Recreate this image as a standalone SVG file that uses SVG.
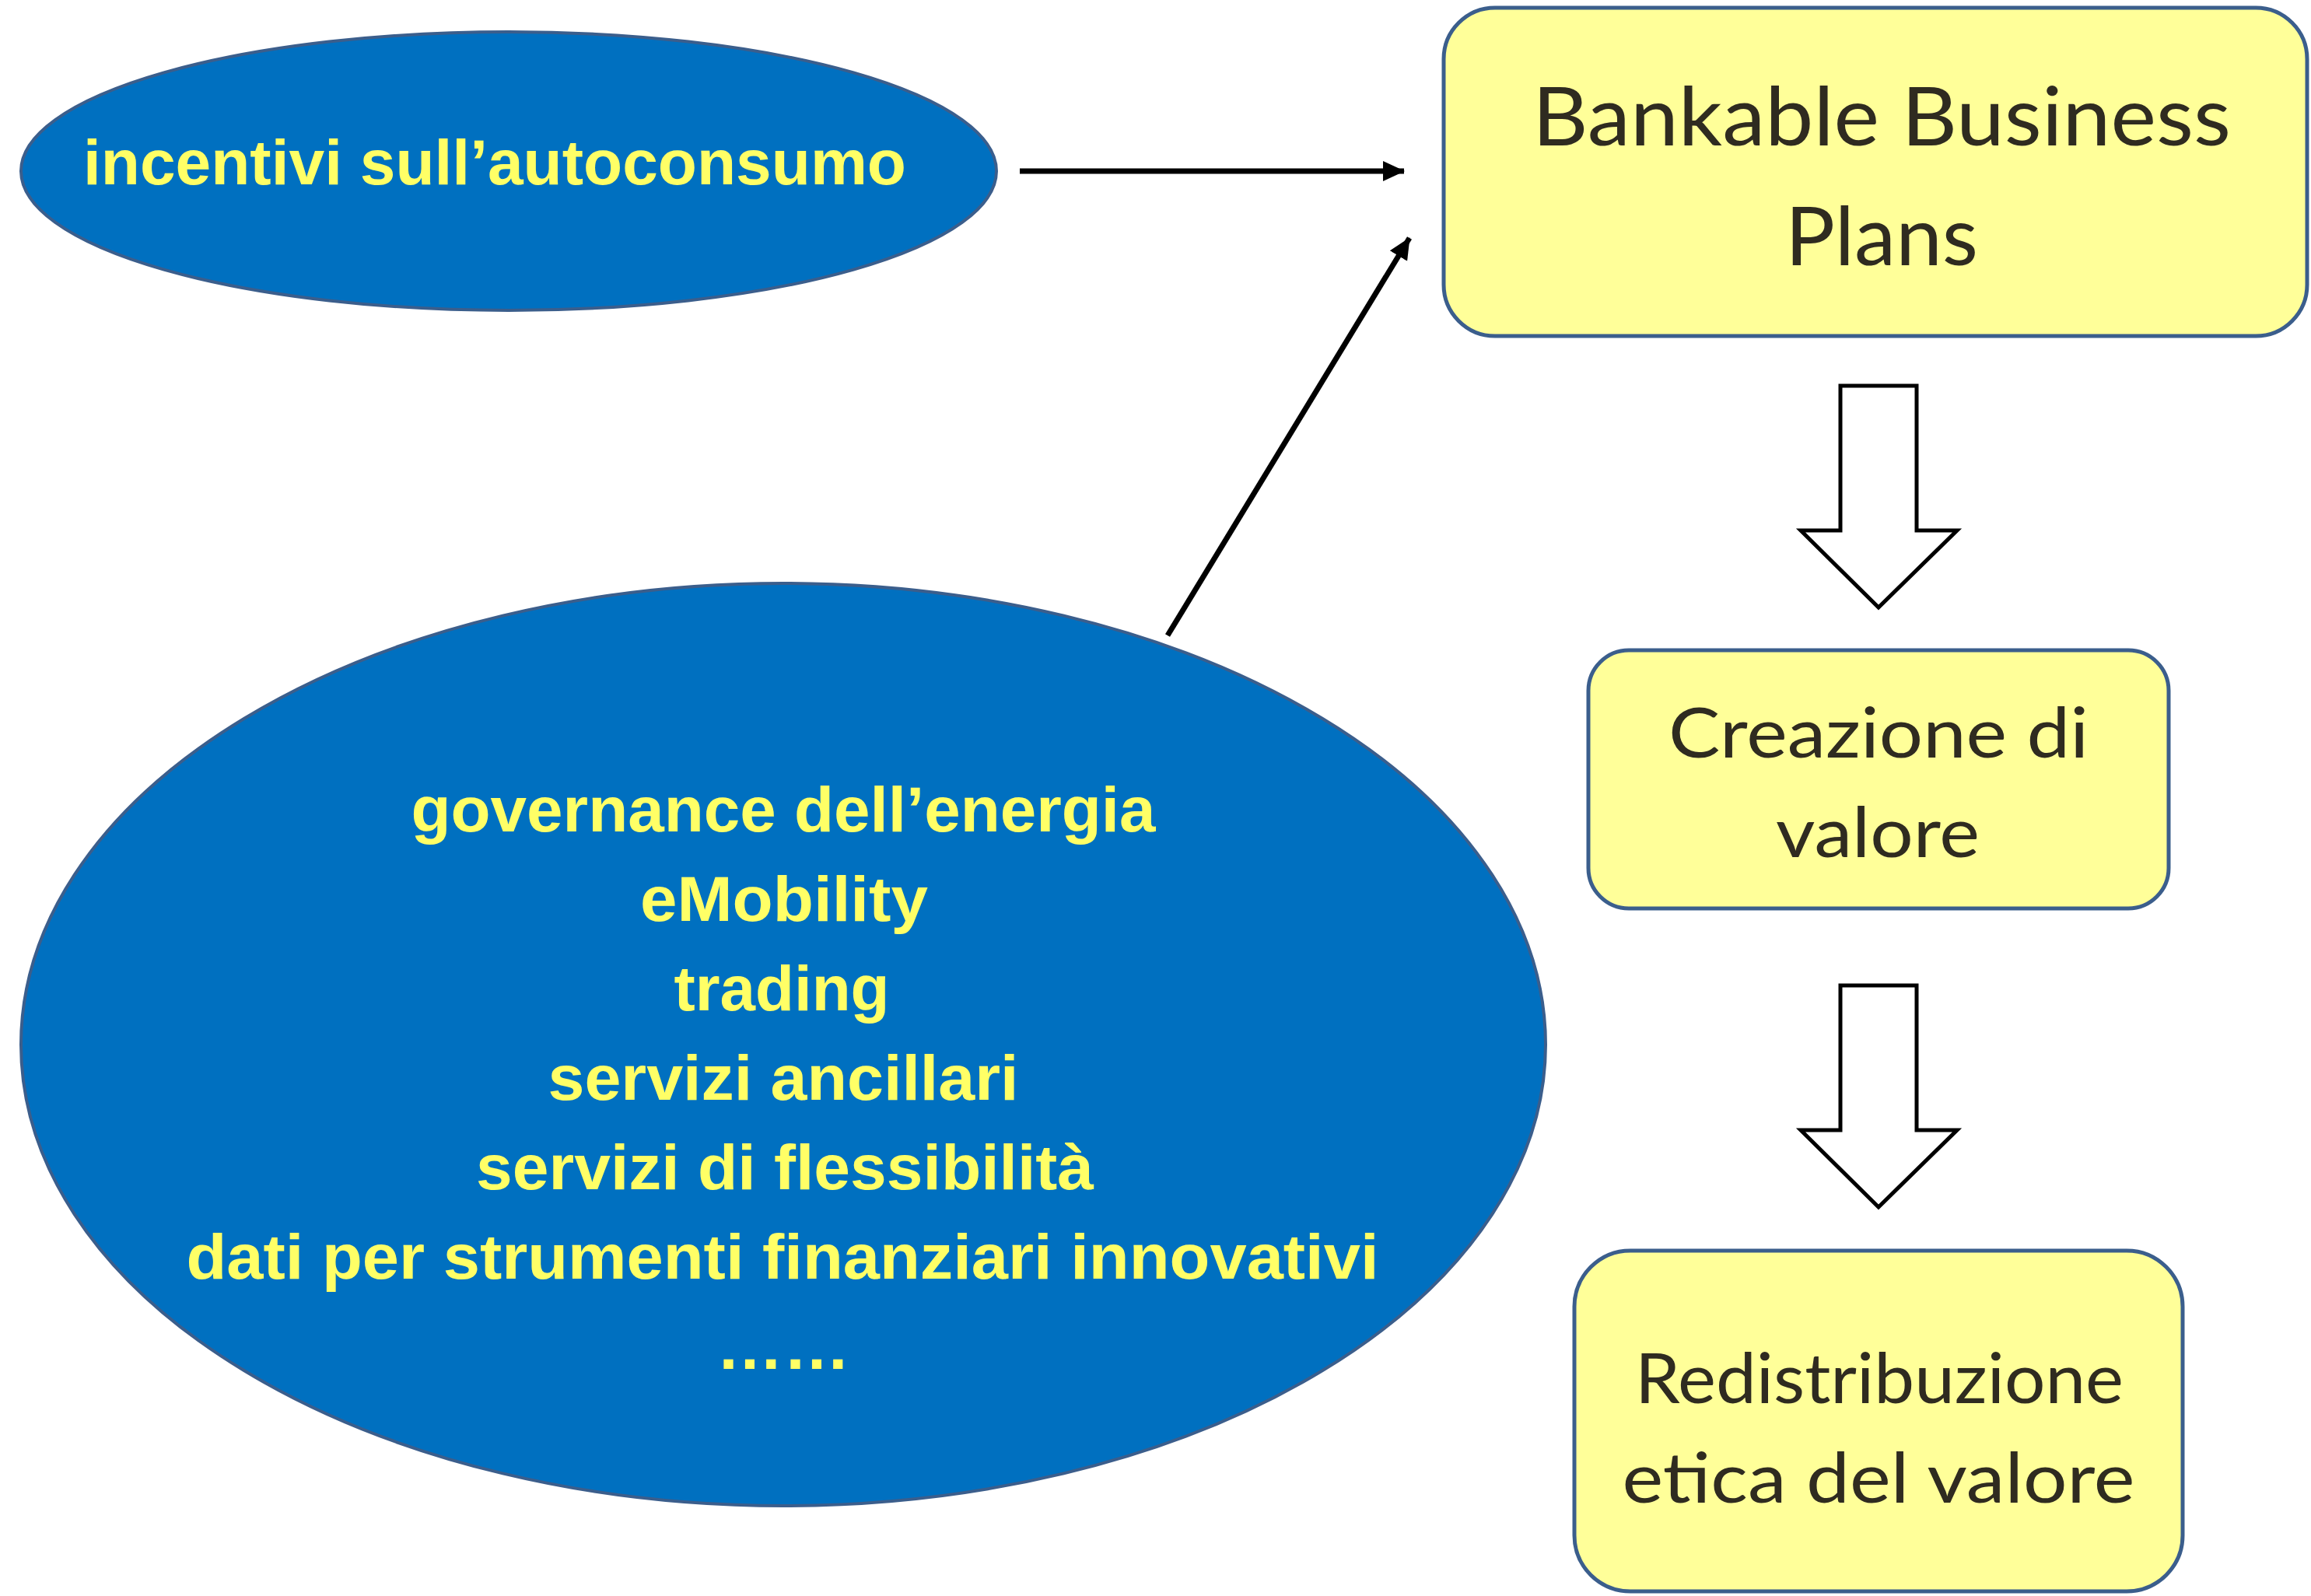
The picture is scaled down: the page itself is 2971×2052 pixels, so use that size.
<svg xmlns="http://www.w3.org/2000/svg" width="2971" height="2052" viewBox="0 0 2971 2052">
<style>
.blue{fill:#0070C0;stroke:#3B5E8C;stroke-width:4}
.yel{fill:#FFFF99;stroke:#3B5E8C;stroke-width:5}
.bt{font-family:"Liberation Sans","DejaVu Sans",sans-serif;font-weight:bold;font-size:82px;fill:#FFFF66;text-anchor:middle}
.yt{font-family:"Lato","Liberation Sans",sans-serif;font-size:104px;fill:#2F2B20;text-anchor:middle}
.yt2{font-family:"Lato","Liberation Sans",sans-serif;font-size:90px;fill:#2F2B20;text-anchor:middle}
.conn{stroke:#000;stroke-width:7;fill:none}
.block{fill:#fff;stroke:#000;stroke-width:5}
</style>
<defs>
<marker id="ah" markerUnits="userSpaceOnUse" markerWidth="28" markerHeight="28" viewBox="0 0 28 28" refX="27" refY="14" orient="auto">
<path d="M0,1 L28,14 L0,27 z" fill="#000"/>
</marker>
</defs>
<rect width="2971" height="2052" fill="#fff"/>
<g id="node-incentivi">
<ellipse class="blue" cx="654" cy="220" rx="627" ry="179"/>
<text class="bt" x="636" y="237" textLength="1058" lengthAdjust="spacingAndGlyphs">incentivi sull’autoconsumo</text>
</g>
<g id="node-servizi">
<ellipse class="blue" cx="1007" cy="1343" rx="980" ry="593"/>
<text class="bt" x="1007" y="1069" textLength="957" lengthAdjust="spacingAndGlyphs">governance dell’energia</text>
<text class="bt" x="1008" y="1184" textLength="370" lengthAdjust="spacingAndGlyphs">eMobility</text>
<text class="bt" x="1005" y="1299" textLength="277" lengthAdjust="spacingAndGlyphs">trading</text>
<text class="bt" x="1007" y="1414" textLength="605" lengthAdjust="spacingAndGlyphs">servizi ancillari</text>
<text class="bt" x="1009" y="1529" textLength="794" lengthAdjust="spacingAndGlyphs">servizi di flessibilità</text>
<text class="bt" x="1006" y="1644" textLength="1533" lengthAdjust="spacingAndGlyphs">dati per strumenti finanziari innovativi</text>
<text class="bt" x="1007" y="1760" textLength="172" lengthAdjust="spacingAndGlyphs">……</text>
</g>
<g id="node-bankable">
<rect class="yel" x="1856" y="10" width="1110" height="422" rx="66" ry="66"/>
<text class="yt" x="2419" y="187" textLength="898" lengthAdjust="spacingAndGlyphs">Bankable Business</text>
<text class="yt" x="2419" y="341" textLength="248" lengthAdjust="spacingAndGlyphs">Plans</text>
</g>
<g id="node-creazione">
<rect class="yel" x="2042" y="836" width="746" height="332" rx="52" ry="52"/>
<text class="yt2" x="2415" y="974" textLength="540" lengthAdjust="spacingAndGlyphs">Creazione di</text>
<text class="yt2" x="2414" y="1102" textLength="262" lengthAdjust="spacingAndGlyphs">valore</text>
</g>
<g id="node-redistribuzione">
<rect class="yel" x="2024" y="1608" width="782" height="438" rx="72" ry="72"/>
<text class="yt2" x="2416" y="1804" textLength="628" lengthAdjust="spacingAndGlyphs">Redistribuzione</text>
<text class="yt2" x="2415" y="1932" textLength="659" lengthAdjust="spacingAndGlyphs">etica del valore</text>
</g>
<g id="connectors">
<line class="conn" x1="1311" y1="220" x2="1805" y2="220" marker-end="url(#ah)"/>
<line class="conn" x1="1501" y1="817" x2="1812" y2="306" marker-end="url(#ah)"/>
<path class="block" d="M2366,496 L2464,496 L2464,682 L2516,682 L2415,781 L2315,682 L2366,682 Z"/>
<path class="block" d="M2366,1267 L2464,1267 L2464,1453 L2516,1453 L2415,1552 L2315,1453 L2366,1453 Z"/>
</g>
</svg>
